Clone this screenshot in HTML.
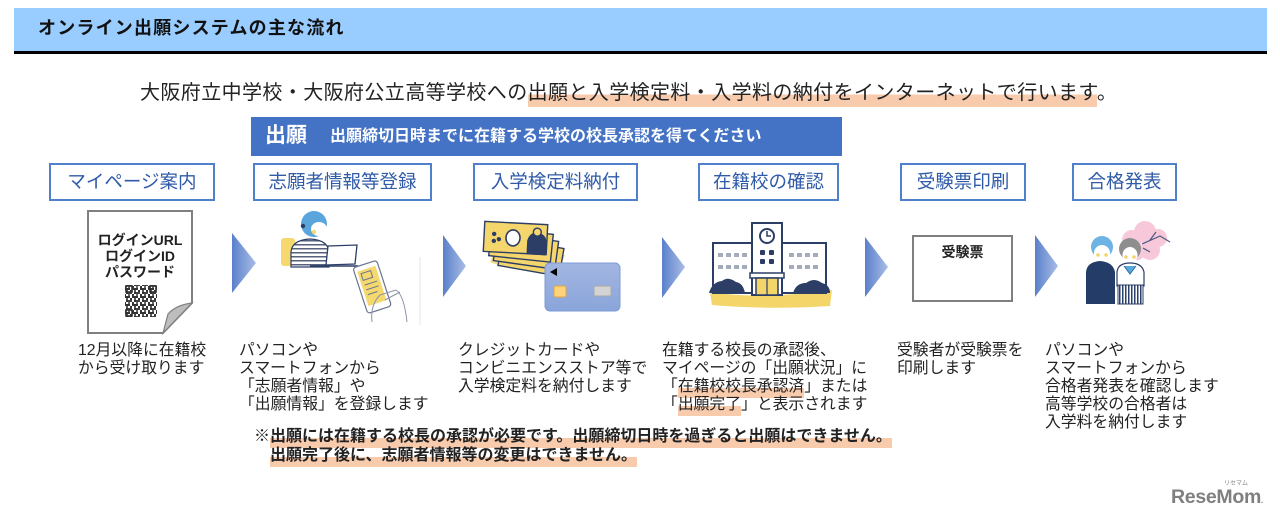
<!DOCTYPE html>
<html><head><meta charset="utf-8">
<style>
html,body{margin:0;padding:0;background:#fff;}
body{width:1280px;height:523px;position:relative;overflow:hidden;font-family:"Liberation Sans","Noto Sans CJK JP",sans-serif;color:#222;}
.t{position:absolute;white-space:nowrap;}
.hl{background:linear-gradient(transparent 50%,#F8CBAD 50%);padding-bottom:3px;}
.box{position:absolute;top:163px;height:38px;box-sizing:border-box;border:2px solid #5080CC;color:#2F5BA8;font-size:18.5px;line-height:34px;text-align:center;white-space:nowrap;}
.desc{position:absolute;top:342px;font-size:15.8px;line-height:18px;white-space:nowrap;color:#222;}
</style></head><body>

<svg width="1280" height="523" style="position:absolute;left:0;top:0" xmlns="http://www.w3.org/2000/svg">
<defs>
<linearGradient id="ag" x1="0" x2="1" y1="0" y2="0"><stop offset="0" stop-color="#5A80CB"/><stop offset="1" stop-color="#AABDE6"/></linearGradient>
<linearGradient id="cg" x1="0" x2="0" y1="0" y2="1"><stop offset="0" stop-color="#A2B6E2"/><stop offset="1" stop-color="#8AA5DA"/></linearGradient>
<pattern id="qr" width="8" height="8" patternUnits="userSpaceOnUse">
<rect x="0" y="0" width="2" height="2" fill="#333"/><rect x="4" y="0" width="4" height="2" fill="#333"/>
<rect x="2" y="2" width="2" height="2" fill="#333"/><rect x="6" y="2" width="2" height="2" fill="#555"/>
<rect x="0" y="4" width="4" height="2" fill="#444"/><rect x="6" y="4" width="2" height="2" fill="#333"/>
<rect x="4" y="6" width="2" height="2" fill="#333"/><rect x="0" y="6" width="2" height="2" fill="#666"/>
</pattern>
<pattern id="st" width="4" height="4" patternUnits="userSpaceOnUse"><rect width="4" height="4" fill="#fff"/><rect y="0" width="4" height="1.5" fill="#56627e"/></pattern>
<pattern id="sk" width="3" height="4" patternUnits="userSpaceOnUse"><rect width="3" height="4" fill="#fff"/><rect x="0" width="1.5" height="4" fill="#2B3F6B"/></pattern>
</defs>

<!-- header -->
<rect x="14" y="8" width="1253" height="43" fill="#99CCFF"/>
<rect x="14" y="51" width="1253" height="3" fill="#000"/>

<!-- banner -->
<rect x="251" y="117" width="591" height="39" fill="#4472C4"/>

<!-- arrows -->
<polygon points="232,233 256,263 232,293" fill="url(#ag)"/>
<polygon points="443,235 466,266 443,297" fill="url(#ag)"/>
<polygon points="662,237 685,267 662,298" fill="url(#ag)"/>
<polygon points="865,237 888,267 865,297" fill="url(#ag)"/>
<polygon points="1035,235 1058,266 1035,297" fill="url(#ag)"/>

<!-- paper -->
<path d="M88,211 H192 V303 L163,333 H88 Z" fill="#fff" stroke="#808080" stroke-width="2"/>
<path d="M192,303 L163,333 L168,314 Q176,305 192,303 Z" fill="#BDBDBD" stroke="#808080" stroke-width="1.2"/>
<rect x="125" y="285" width="32" height="32" fill="url(#qr)"/>
<g fill="none" stroke="#333" stroke-width="1.6">
<rect x="126" y="286" width="6" height="6"/><rect x="150" y="286" width="6" height="6"/><rect x="126" y="310" width="6" height="6"/>
</g>

<!-- person -->
<rect x="281" y="238" width="14" height="28" rx="3" fill="#F5D86E"/>
<path d="M291,267 V252 Q292,240 310,239 Q328,240 329,252 V267 Z" fill="url(#st)" stroke="#2C3E66" stroke-width="1.2"/>
<circle cx="314" cy="224" r="13" fill="#5AA5DC"/>
<ellipse cx="319" cy="229" rx="8" ry="7" fill="#fff"/>
<circle cx="314" cy="232" r="2.2" fill="#F5D86E"/>
<circle cx="303" cy="226" r="2.2" fill="#2C3E66"/>
<polygon points="328,246 357,245 355,264 326,265" fill="#fff" stroke="#2C3E66" stroke-width="1.3"/>
<line x1="310" y1="266" x2="358" y2="266" stroke="#2C3E66" stroke-width="1.6"/>
<g transform="rotate(-18 372 288)">
<rect x="360" y="263" width="25" height="48" rx="3" fill="#fff" stroke="#6A7590" stroke-width="1.2"/>
<rect x="363" y="268" width="19" height="36" fill="#F5D86E"/>
<rect x="366" y="271" width="10" height="7" fill="none" stroke="#6A7590" stroke-width="1"/>
<line x1="366" y1="283" x2="379" y2="283" stroke="#6A7590"/><line x1="366" y1="288" x2="379" y2="288" stroke="#6A7590"/><line x1="366" y1="293" x2="376" y2="293" stroke="#6A7590"/>
</g>
<path d="M372,322 Q370,305 380,295 L396,290 Q404,295 407,322" fill="none" stroke="#8A93A8" stroke-width="1"/>
<path d="M385,300 L400,292" stroke="#8A93A8" stroke-width="1"/>
<line x1="420" y1="257" x2="420" y2="325" stroke="#e6e6e6" stroke-width="1"/>

<!-- money -->
<path d="M490,262 Q520,275 560,268 L565,255 L495,250 Z" fill="#F3D56A" opacity="0.8"/>
<g stroke="#2C3E66" stroke-width="1.4">
<rect x="500" y="243" width="62" height="28" fill="#F4D66C" transform="rotate(10 531 257)"/>
<rect x="495" y="237" width="62" height="28" fill="#F4D66C" transform="rotate(8 526 251)"/>
<rect x="490" y="231" width="62" height="28" fill="#F4D66C" transform="rotate(6 521 245)"/>
<g transform="rotate(3 515 238)">
<rect x="484" y="223" width="63" height="30" fill="#F4D66C"/>
<ellipse cx="513" cy="238" rx="7" ry="8" fill="#fff" stroke-width="1.6"/>
<path d="M528,253 V240 Q530,232 537,232 Q545,233 546,240 V253 Z" fill="#2C3E66"/>
<circle cx="537" cy="231" r="4" fill="#F4D66C"/>
<circle cx="494" cy="235" r="1.5" fill="#2C3E66"/><circle cx="499" cy="240" r="1.5" fill="#2C3E66"/><circle cx="494" cy="242" r="1.5" fill="#2C3E66"/>
</g>
</g>
<rect x="545" y="263" width="75" height="48" rx="5" fill="url(#cg)" stroke="#7E9BD5" stroke-width="1"/>
<polygon points="550,272 557,268 557,276" fill="#000"/>
<rect x="554" y="286" width="12" height="11" rx="2" fill="#FFD37A" stroke="#E2A842" stroke-width="1"/>
<rect x="594" y="286" width="17" height="10" rx="1.5" fill="#D3D3D3" stroke="#AAAAAA" stroke-width="1"/>

<!-- school -->
<path d="M710,292 Q760,300 832,290 L830,306 Q770,310 712,305 Z" fill="#F3D56A"/>
<g stroke="#2C3E66" stroke-width="2" fill="#fff">
<rect x="713" y="243" width="40" height="50"/>
<rect x="782" y="243" width="44" height="50"/>
<rect x="752" y="223" width="30" height="72"/>
<circle cx="767" cy="236" r="7"/>
</g>
<path d="M767,231 V236 H771" stroke="#2C3E66" stroke-width="1.5" fill="none"/>
<g fill="#2C3E66">
<rect x="760" y="250" width="5" height="5" rx="1"/><rect x="769" y="250" width="5" height="5" rx="1"/>
<rect x="760" y="259" width="5" height="5" rx="1"/><rect x="769" y="259" width="5" height="5" rx="1"/>
</g>
<g fill="#A4ABBA">
<rect x="718" y="253" width="5" height="4"/><rect x="726" y="253" width="5" height="4"/><rect x="734" y="253" width="5" height="4"/><rect x="742" y="253" width="5" height="4"/>
<rect x="718" y="265" width="5" height="4"/><rect x="726" y="265" width="5" height="4"/><rect x="734" y="265" width="5" height="4"/><rect x="742" y="265" width="5" height="4"/>
<rect x="789" y="253" width="5" height="4"/><rect x="797" y="253" width="5" height="4"/><rect x="805" y="253" width="5" height="4"/><rect x="813" y="253" width="5" height="4"/>
<rect x="789" y="265" width="5" height="4"/><rect x="797" y="265" width="5" height="4"/><rect x="805" y="265" width="5" height="4"/><rect x="813" y="265" width="5" height="4"/>
</g>
<rect x="750" y="273" width="34" height="5" fill="#fff" stroke="#2C3E66" stroke-width="1.5"/>
<rect x="756" y="278" width="22" height="17" fill="#F3D56A" stroke="#2C3E66" stroke-width="1.5"/>
<line x1="767" y1="278" x2="767" y2="295" stroke="#2C3E66" stroke-width="1.2"/>
<path d="M709,293 Q712,282 722,281 Q728,276 736,282 Q743,283 745,293 Z" fill="#2C3E66"/>
<path d="M793,293 Q796,283 806,283 Q814,277 822,283 Q830,285 830,293 Z" fill="#2C3E66"/>

<!-- ticket -->
<rect x="913" y="236" width="99" height="65" fill="#fff" stroke="#7F7F7F" stroke-width="2"/>

<!-- students -->
<g fill="#F7C8DA">
<circle cx="1132" cy="240" r="10"/><circle cx="1145" cy="232" r="11"/><circle cx="1158" cy="238" r="9"/><circle cx="1150" cy="250" r="10"/><circle cx="1137" cy="252" r="8"/>
</g>
<path d="M1142,244 L1160,236 L1170,242 M1150,240 L1156,232 M1143,248 L1150,252" stroke="#4A5A80" stroke-width="1.2" fill="none"/>
<path d="M1086,304 V272 Q1087,262 1100,261 Q1113,262 1115,272 V304 Z" fill="#233C68"/>
<circle cx="1102" cy="247" r="11" fill="#6DB3E3"/>
<ellipse cx="1102" cy="253" rx="8" ry="8" fill="#fff"/>
<circle cx="1098" cy="255" r="1.8" fill="#F3D56A"/><circle cx="1106" cy="255" r="1.8" fill="#F3D56A"/>
<circle cx="1130" cy="249" r="11" fill="#8E8E8E"/>
<ellipse cx="1130" cy="255" rx="7.5" ry="8" fill="#fff"/>
<circle cx="1126" cy="257" r="1.8" fill="#F3D56A"/><circle cx="1134" cy="257" r="1.8" fill="#F3D56A"/>
<path d="M1117,286 V272 Q1118,263 1130,263 Q1142,263 1144,272 V286 Z" fill="#fff" stroke="#2C3E66" stroke-width="1.2"/>
<path d="M1124,266 L1130,274 L1136,266" fill="#5BA8DC" stroke="#2C6FA8" stroke-width="1"/>
<rect x="1118" y="285" width="25" height="19" fill="url(#sk)" stroke="#2C3E66" stroke-width="1"/>
</svg>

<!-- header text -->
<div class="t" style="left:38px;top:16px;font-size:18px;line-height:24px;font-weight:bold;letter-spacing:1.2px;color:#111;">オンライン出願システムの主な流れ</div>

<!-- subtitle -->
<div class="t" style="left:140px;top:79px;font-size:20px;line-height:28px;letter-spacing:0.4px;color:#222;">大阪府立中学校・大阪府公立高等学校への<span class="hl">出願と入学検定料・入学料の納付をインターネットで行います</span>。</div>

<!-- banner text -->
<div class="t" style="left:265px;top:122px;font-size:21px;line-height:28px;font-weight:bold;color:#fff;">出願</div>
<div class="t" style="left:330px;top:125px;font-size:16px;line-height:24px;font-weight:bold;color:#fff;">出願締切日時までに在籍する学校の校長承認を得てください</div>

<!-- step boxes -->
<div class="box" style="left:49px;width:166px;">マイページ案内</div>
<div class="box" style="left:253px;width:179px;">志願者情報等登録</div>
<div class="box" style="left:473px;width:165px;">入学検定料納付</div>
<div class="box" style="left:698px;width:141px;">在籍校の確認</div>
<div class="box" style="left:900px;width:126px;">受験票印刷</div>
<div class="box" style="left:1072px;width:105px;">合格発表</div>

<!-- paper text -->
<div class="t" style="left:88px;width:104px;top:232px;text-align:center;font-size:14px;line-height:16px;font-weight:bold;color:#222;">ログインURL<br>ログインID<br>パスワード</div>

<!-- ticket text -->
<div class="t" style="left:913px;width:99px;top:243px;text-align:center;font-size:14px;line-height:18px;font-weight:bold;color:#222;">受験票</div>

<!-- descriptions -->
<div class="desc" style="left:78px;">12月以降に在籍校<br>から受け取ります</div>
<div class="desc" style="left:239px;">パソコンや<br>スマートフォンから<br>「志願者情報」や<br>「出願情報」を登録します</div>
<div class="desc" style="left:458px;">クレジットカードや<br>コンビニエンスストア等で<br>入学検定料を納付します</div>
<div class="desc" style="left:662px;">在籍する校長の承認後、<br>マイページの「出願状況」に<br>「<span class="hl">在籍校校長承認済</span>」または<br>「<span class="hl">出願完了</span>」と表示されます</div>
<div class="desc" style="left:897px;">受験者が受験票を<br>印刷します</div>
<div class="desc" style="left:1045px;">パソコンや<br>スマートフォンから<br>合格者発表を確認します<br>高等学校の合格者は<br>入学料を納付します</div>

<!-- note -->
<div class="t" style="left:254px;top:426px;font-size:16px;line-height:22px;font-weight:bold;color:#222;">※<span class="hl">出願には在籍する校長の承認が必要です。出願締切日時を過ぎると出願はできません。</span></div>
<div class="t" style="left:270px;top:445px;font-size:16px;line-height:22px;font-weight:bold;color:#222;"><span class="hl">出願完了後に、志願者情報等の変更はできません。</span></div>

<!-- logo -->
<div class="t" style="left:1224px;top:480px;font-size:6px;line-height:8px;color:#888;">リセマム</div>
<div class="t" style="left:1171px;top:486px;font-size:19.5px;line-height:22px;font-weight:bold;color:#7F7F7F;letter-spacing:-0.3px;">ReseMom<span style="font-size:8px;">.</span></div>

</body></html>
